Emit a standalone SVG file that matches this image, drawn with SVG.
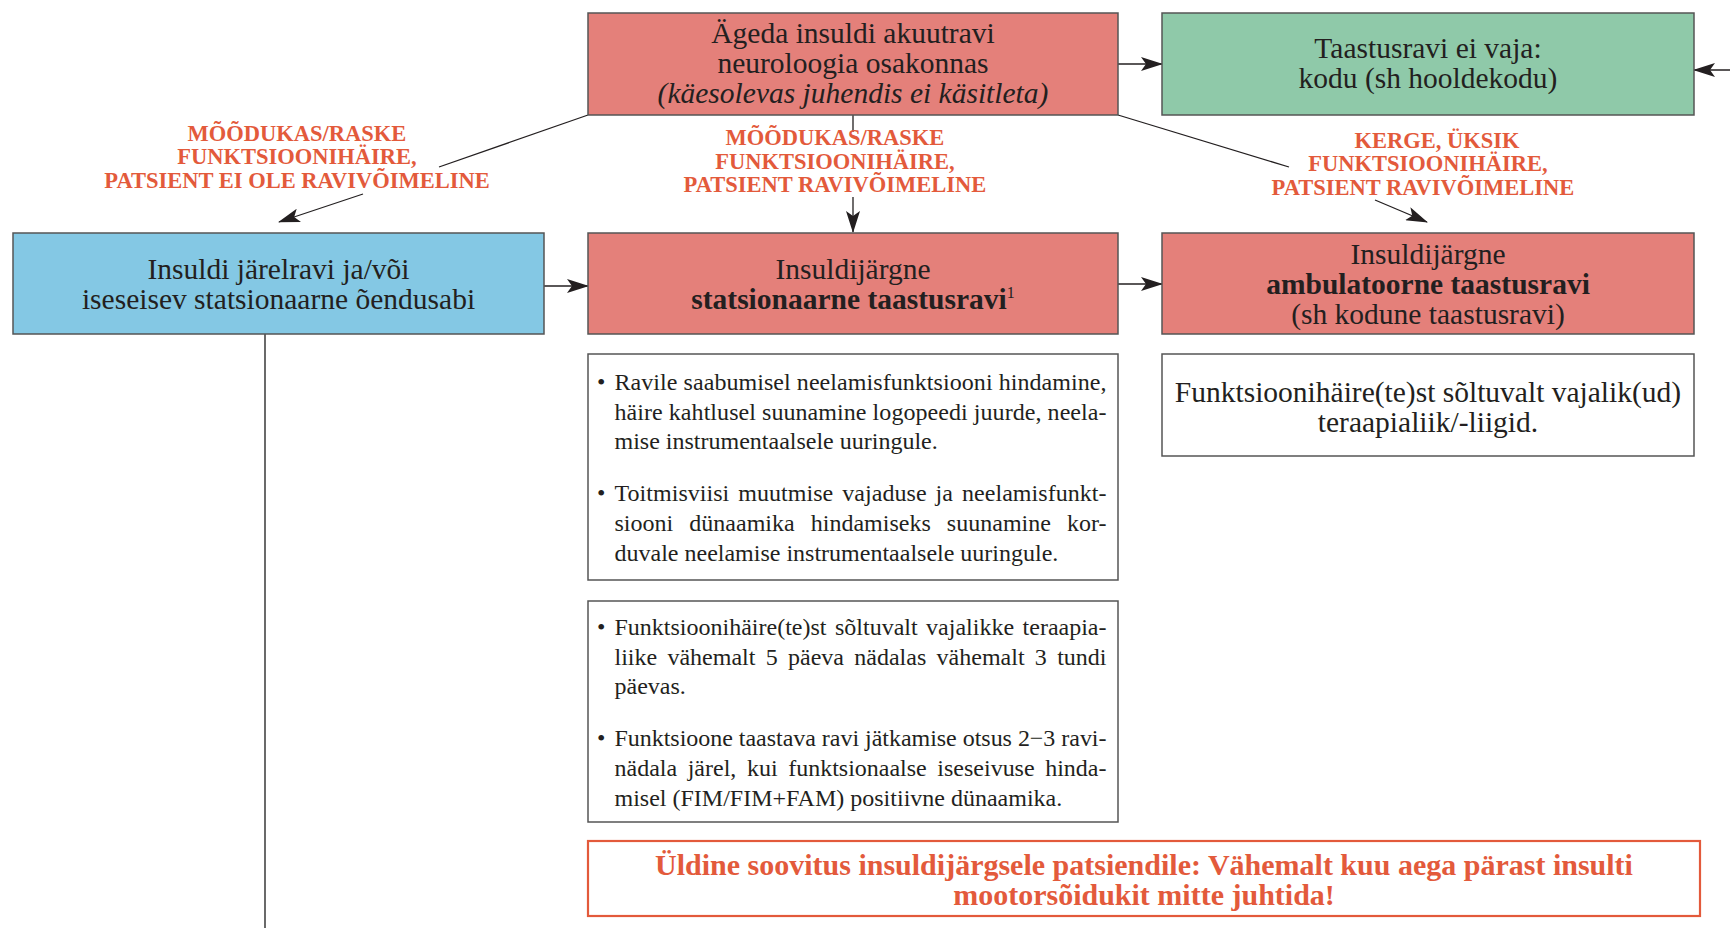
<svg xmlns="http://www.w3.org/2000/svg" width="1730" height="928" viewBox="0 0 1730 928">
<defs>
<marker id="ah" markerWidth="22" markerHeight="14" refX="21" refY="7" orient="auto" markerUnits="userSpaceOnUse">
<path d="M0,0 L22,7 L0,14 L5,7 z" fill="#231f20"/>
</marker>
<style>
.box{stroke:#555;stroke-width:1.5}
.red{fill:#e4807a}
.green{fill:#8fc9a9}
.blue{fill:#84c8e4}
.white{fill:#fff}
.t{font-family:"Liberation Serif","Times New Roman",serif;font-size:29.5px;fill:#231f20;text-anchor:middle}
.b{font-weight:bold}
.lab{font-family:"Liberation Serif","Times New Roman",serif;font-size:22.5px;font-weight:bold;fill:#e35a3b;text-anchor:middle}
.bt{font-family:"Liberation Serif","Times New Roman",serif;font-size:24px;fill:#231f20}
.warn{font-family:"Liberation Serif","Times New Roman",serif;font-size:30px;font-weight:bold;fill:#e35a3b;text-anchor:middle}
.c{stroke:#231f20;stroke-width:1.3;fill:none}
</style>
</defs>
<rect width="1730" height="928" fill="#fff"/>

<g id="connectors">
<line class="c" x1="1118" y1="64" x2="1162" y2="64" marker-end="url(#ah)"/>
<line class="c" x1="1730" y1="70" x2="1694" y2="70" marker-end="url(#ah)"/>
<line class="c" x1="588" y1="115" x2="439" y2="167"/>
<line class="c" x1="363" y1="194" x2="279" y2="222" marker-end="url(#ah)"/>
<line class="c" x1="853" y1="115" x2="853" y2="132"/>
<line class="c" x1="853" y1="197" x2="853" y2="232" marker-end="url(#ah)"/>
<line class="c" x1="1118" y1="115" x2="1289" y2="167"/>
<line class="c" x1="1375" y1="200" x2="1427" y2="222" marker-end="url(#ah)"/>
<line class="c" x1="544" y1="286" x2="588" y2="286" marker-end="url(#ah)"/>
<line class="c" x1="1118" y1="284" x2="1162" y2="284" marker-end="url(#ah)"/>
<line x1="265" y1="334" x2="265" y2="928" stroke="#444" stroke-width="1.6"/>
</g>

<g id="labels">
<text class="lab" x="297" y="141">MÕÕDUKAS/RASKE</text>
<text class="lab" x="297" y="164">FUNKTSIOONIHÄIRE,</text>
<text class="lab" x="297" y="188">PATSIENT EI OLE RAVIVÕIMELINE</text>
<text class="lab" x="835" y="145">MÕÕDUKAS/RASKE</text>
<text class="lab" x="835" y="169">FUNKTSIOONIHÄIRE,</text>
<text class="lab" x="835" y="192">PATSIENT RAVIVÕIMELINE</text>
<text class="lab" x="1437" y="148">KERGE, ÜKSIK</text>
<text class="lab" x="1428" y="171">FUNKTSIOONIHÄIRE,</text>
<text class="lab" x="1423" y="195">PATSIENT RAVIVÕIMELINE</text>
</g>

<g id="node-acute">
<rect class="box red" x="588" y="13" width="530" height="102"/>
<text class="t" x="853" y="43">Ägeda insuldi akuutravi</text>
<text class="t" x="853" y="73">neuroloogia osakonnas</text>
<text class="t" x="853" y="103" font-style="italic">(käesolevas juhendis ei käsitleta)</text>
</g>

<g id="node-home">
<rect class="box green" x="1162" y="13" width="532" height="102"/>
<text class="t" x="1428" y="58">Taastusravi ei vaja:</text>
<text class="t" x="1428" y="88">kodu (sh hooldekodu)</text>
</g>

<g id="node-aftercare">
<rect class="box blue" x="13" y="233" width="531" height="101"/>
<text class="t" x="278.5" y="279">Insuldi järelravi ja/või</text>
<text class="t" x="278.5" y="309">iseseisev statsionaarne õendusabi</text>
</g>

<g id="node-inpatient">
<rect class="box red" x="588" y="233" width="530" height="101"/>
<text class="t" x="853" y="279">Insuldijärgne</text>
<text class="t b" x="853" y="309">statsionaarne taastusravi<tspan font-weight="normal" font-size="16" dy="-11">1</tspan></text>
</g>

<g id="node-outpatient">
<rect class="box red" x="1162" y="233" width="532" height="101"/>
<text class="t" x="1428" y="264">Insuldijärgne</text>
<text class="t b" x="1428" y="294">ambulatoorne taastusravi</text>
<text class="t" x="1428" y="324">(sh kodune taastusravi)</text>
</g>

<g id="node-therapy">
<rect class="box white" x="1162" y="354" width="532" height="102"/>
<text class="t" x="1428" y="402">Funktsioonihäire(te)st sõltuvalt vajalik(ud)</text>
<text class="t" x="1428" y="432">teraapialiik/-liigid.</text>
</g>

<g id="node-swallow">
<rect class="box white" x="588" y="354" width="530" height="226"/>
<text class="bt" x="597" y="390">•</text>
<text class="bt" x="614.5" y="390" textLength="492" lengthAdjust="spacing">Ravile saabumisel neelamisfunktsiooni hindamine,</text>
<text class="bt" x="614.5" y="420" textLength="492" lengthAdjust="spacing">häire kahtlusel suunamine logopeedi juurde, neela-</text>
<text class="bt" x="614.5" y="449">mise instrumentaalsele uuringule.</text>
<text class="bt" x="597" y="501">•</text>
<text class="bt" x="614.5" y="501" word-spacing="3" textLength="492" lengthAdjust="spacing">Toitmisviisi muutmise vajaduse ja neelamisfunkt-</text>
<text class="bt" x="614.5" y="531" word-spacing="10" textLength="492" lengthAdjust="spacing">siooni dünaamika hindamiseks suunamine kor-</text>
<text class="bt" x="614.5" y="561">duvale neelamise instrumentaalsele uuringule.</text>
</g>

<g id="node-intensity">
<rect class="box white" x="588" y="601" width="530" height="221"/>
<text class="bt" x="597" y="635">•</text>
<text class="bt" x="614.5" y="635" word-spacing="2.5" textLength="492" lengthAdjust="spacing">Funktsioonihäire(te)st sõltuvalt vajalikke teraapia-</text>
<text class="bt" x="614.5" y="665" word-spacing="4.3" textLength="492" lengthAdjust="spacing">liike vähemalt 5 päeva nädalas vähemalt 3 tundi</text>
<text class="bt" x="614.5" y="694">päevas.</text>
<text class="bt" x="597" y="746">•</text>
<text class="bt" x="614.5" y="746" textLength="492" lengthAdjust="spacing">Funktsioone taastava ravi jätkamise otsus 2−3 ravi-</text>
<text class="bt" x="614.5" y="776" word-spacing="4.6" textLength="492" lengthAdjust="spacing">nädala järel, kui funktsionaalse iseseivuse hinda-</text>
<text class="bt" x="614.5" y="806">misel (FIM/FIM+FAM) positiivne dünaamika.</text>
</g>

<g id="node-warning">
<rect x="588" y="841" width="1112" height="75" fill="#fff" stroke="#e35a3b" stroke-width="2.2"/>
<text class="warn" x="1144" y="875">Üldine soovitus insuldijärgsele patsiendile: Vähemalt kuu aega pärast insulti</text>
<text class="warn" x="1144" y="905">mootorsõidukit mitte juhtida!</text>
</g>
</svg>
